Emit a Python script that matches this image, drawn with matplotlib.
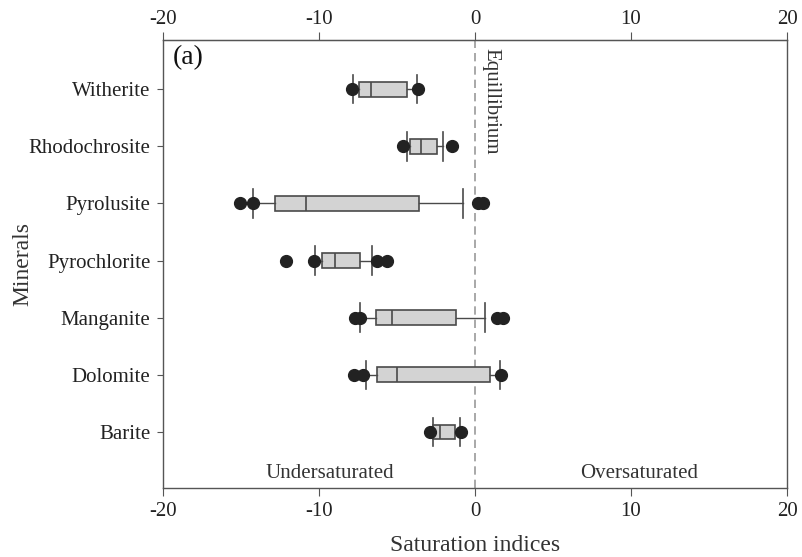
import matplotlib
matplotlib.use("Agg")
import matplotlib.pyplot as plt

minerals = ["Barite", "Dolomite", "Manganite", "Pyrochlorite", "Pyrolusite", "Rhodochrosite", "Witherite"]
whislo = [-2.71, -7.01, -7.35, -10.26, -14.21, -4.34, -7.8]
q1 = [-2.67, -6.3, -6.37, -9.79, -12.8, -4.17, -7.43]
med = [-2.24, -4.98, -5.3, -8.97, -10.83, -3.46, -6.67]
q3 = [-1.26, 0.96, -1.2, -7.37, -3.59, -2.42, -4.38]
whishi = [-0.96, 1.6, 0.64, -6.62, -0.79, -2.07, -3.74]
fliers = [
    [-2.88, -0.9],
    [-7.76, -7.16, 1.65],
    [-7.69, -7.37, 1.39, 1.82],
    [-12.12, -10.32, -6.3, -5.66],
    [-15.06, -14.25, 0.21, 0.53],
    [-4.64, -1.46],
    [-7.9, -3.63],
]
xticks = [-20, -10, 0, 10, 20]

plt.rcParams['font.family'] = ['Liberation Serif', 'DejaVu Serif']

fig = plt.figure(figsize=(8.02, 5.57), dpi=100)
ax = fig.add_axes([0.2032, 0.1239, 0.7781, 0.8043])

stats = []
for i, m in enumerate(minerals):
    stats.append(dict(label=m, whislo=whislo[i], q1=q1[i], med=med[i], q3=q3[i],
                      whishi=whishi[i], fliers=fliers[i]))

pos = list(range(1, len(minerals) + 1))
ax.bxp(stats, positions=pos, vert=False, widths=0.26, capwidths=0.5,
       patch_artist=True,
       boxprops=dict(facecolor='#d3d3d3', edgecolor='#4a4a4a', linewidth=1.2),
       medianprops=dict(color='#4a4a4a', linewidth=1.2),
       whiskerprops=dict(color='#4a4a4a', linewidth=1.0),
       capprops=dict(color='#4a4a4a', linewidth=1.2),
       flierprops=dict(marker='o', markerfacecolor='#222222', markeredgecolor='#222222',
                       markersize=8.5))

ax.set_xlim(-20, 20)
ax.set_ylim(0.02, 7.86)
ax.set_xticks(xticks)
ax.set_xticklabels([str(t) for t in xticks])
ax.set_yticks(pos)
ax.set_yticklabels(minerals)
ax.tick_params(axis='x', which='both', top=False, direction='out',
               length=6, labelsize=15, color='#555555', pad=4, labelcolor='#222222')
ax.tick_params(axis='y', direction='out', length=4, labelsize=15, color='#555555', pad=5,
               labelcolor='#222222')
for s in ax.spines.values():
    s.set_color('#555555')
    s.set_linewidth(1.0)

sec = ax.secondary_xaxis('top')
sec.set_xticks(xticks)
sec.set_xticklabels([str(t) for t in xticks])
sec.tick_params(direction='out', length=6, labelsize=15, color='#555555', pad=2,
                labelcolor='#222222')
sec.spines['top'].set_color('#555555')

ax.axvline(0, color='#999999', linestyle=(0, (5, 3)), linewidth=1.2, zorder=0)
ax.text(0.4, 7.72, "Equillibrium", rotation=270, ha='left', va='top', fontsize=15, color='#333333')
ax.text(-9.3, 0.27, "Undersaturated", ha='center', va='center', fontsize=15, color='#333333')
ax.text(10.5, 0.27, "Oversaturated", ha='center', va='center', fontsize=15, color='#333333')
ax.text(-19.35, 7.55, "(a)", ha='left', va='center', fontsize=20, color='#111111')

ax.set_xlabel("Saturation indices", fontsize=17, color='#333333', labelpad=10)
ax.set_ylabel("Minerals", fontsize=17, color='#333333')
ax.yaxis.set_label_coords(-0.208, 0.5)

fig.savefig("out.png", dpi=100)
